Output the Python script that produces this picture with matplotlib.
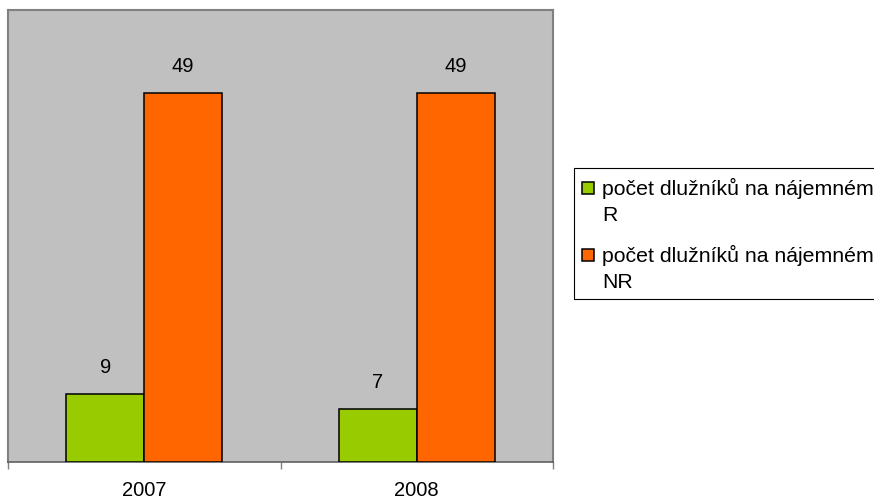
import numpy as np
import matplotlib
matplotlib.use("Agg")
import matplotlib.pyplot as plt
from matplotlib.patches import Rectangle

plt.rcParams['font.family'] = ['Liberation Sans', 'DejaVu Sans']

# data
years = ['2007', '2008']
series_names = ['počet dlužníků na nájemném\nR', 'počet dlužníků na nájemném\nNR']
debtors_R = [9, 7]
debtors_NR = [49, 49]
colors = ['#99CC00', '#FF6600']

W, H = 874, 499
fig = plt.figure(figsize=(W / 100, H / 100), dpi=100)
ax = fig.add_axes([8 / W, 1 - 462 / H, (553 - 8) / W, (462 - 10) / H])
ax.set_facecolor('#C0C0C0')

x = np.arange(len(years))
bw = 0.286
for i, vals in enumerate([debtors_R, debtors_NR]):
    xs = x + (i - 0.5) * bw
    bars = ax.bar(xs, vals, width=bw, color=colors[i], edgecolor='black', linewidth=1.1, zorder=3)
    for b, v in zip(bars, vals):
        ax.annotate(str(v), (b.get_x() + b.get_width() / 2, v), xytext=(0, 19),
                    textcoords='offset points', ha='center', va='center', fontsize=14.5)

ax.set_xlim(-0.5, len(years) - 0.5)
ax.set_ylim(0, 60)
ax.set_yticks([])

ax.set_xticks(np.arange(len(years) + 1) - 0.5)
ax.set_xticklabels([])
ax.tick_params(axis='x', which='major', length=5, width=1, color='#808080', direction='out')
ax.set_xticks(x, minor=True)
ax.set_xticklabels(years, minor=True, fontsize=14.5)
ax.tick_params(axis='x', which='minor', length=0, pad=14)

for s in ['left', 'top', 'right']:
    ax.spines[s].set_color('#808080')
    ax.spines[s].set_linewidth(1.5)
ax.spines['bottom'].set_color('#606060')
ax.spines['bottom'].set_linewidth(1.2)

# legend drawn by hand so the marker sits on the first line
fig.patches.append(Rectangle((574 / W, 1 - 299 / H), 400 / W, (299 - 168) / H,
                             transform=fig.transFigure, facecolor='white',
                             edgecolor='black', linewidth=0.8))
for i, name in enumerate(series_names):
    top = 182 + i * 67
    fig.patches.append(Rectangle((582 / W, 1 - (top + 12) / H), 12 / W, 12 / H,
                                 transform=fig.transFigure, facecolor=colors[i],
                                 edgecolor='black', linewidth=1.1))
    for j, line in enumerate(name.split('\n')):
        fig.text(602 / W, 1 - (195 + i * 67 + j * 26) / H, line, fontsize=15.3,
                 va='baseline', ha='left')

fig.savefig('out.png', dpi=100)
